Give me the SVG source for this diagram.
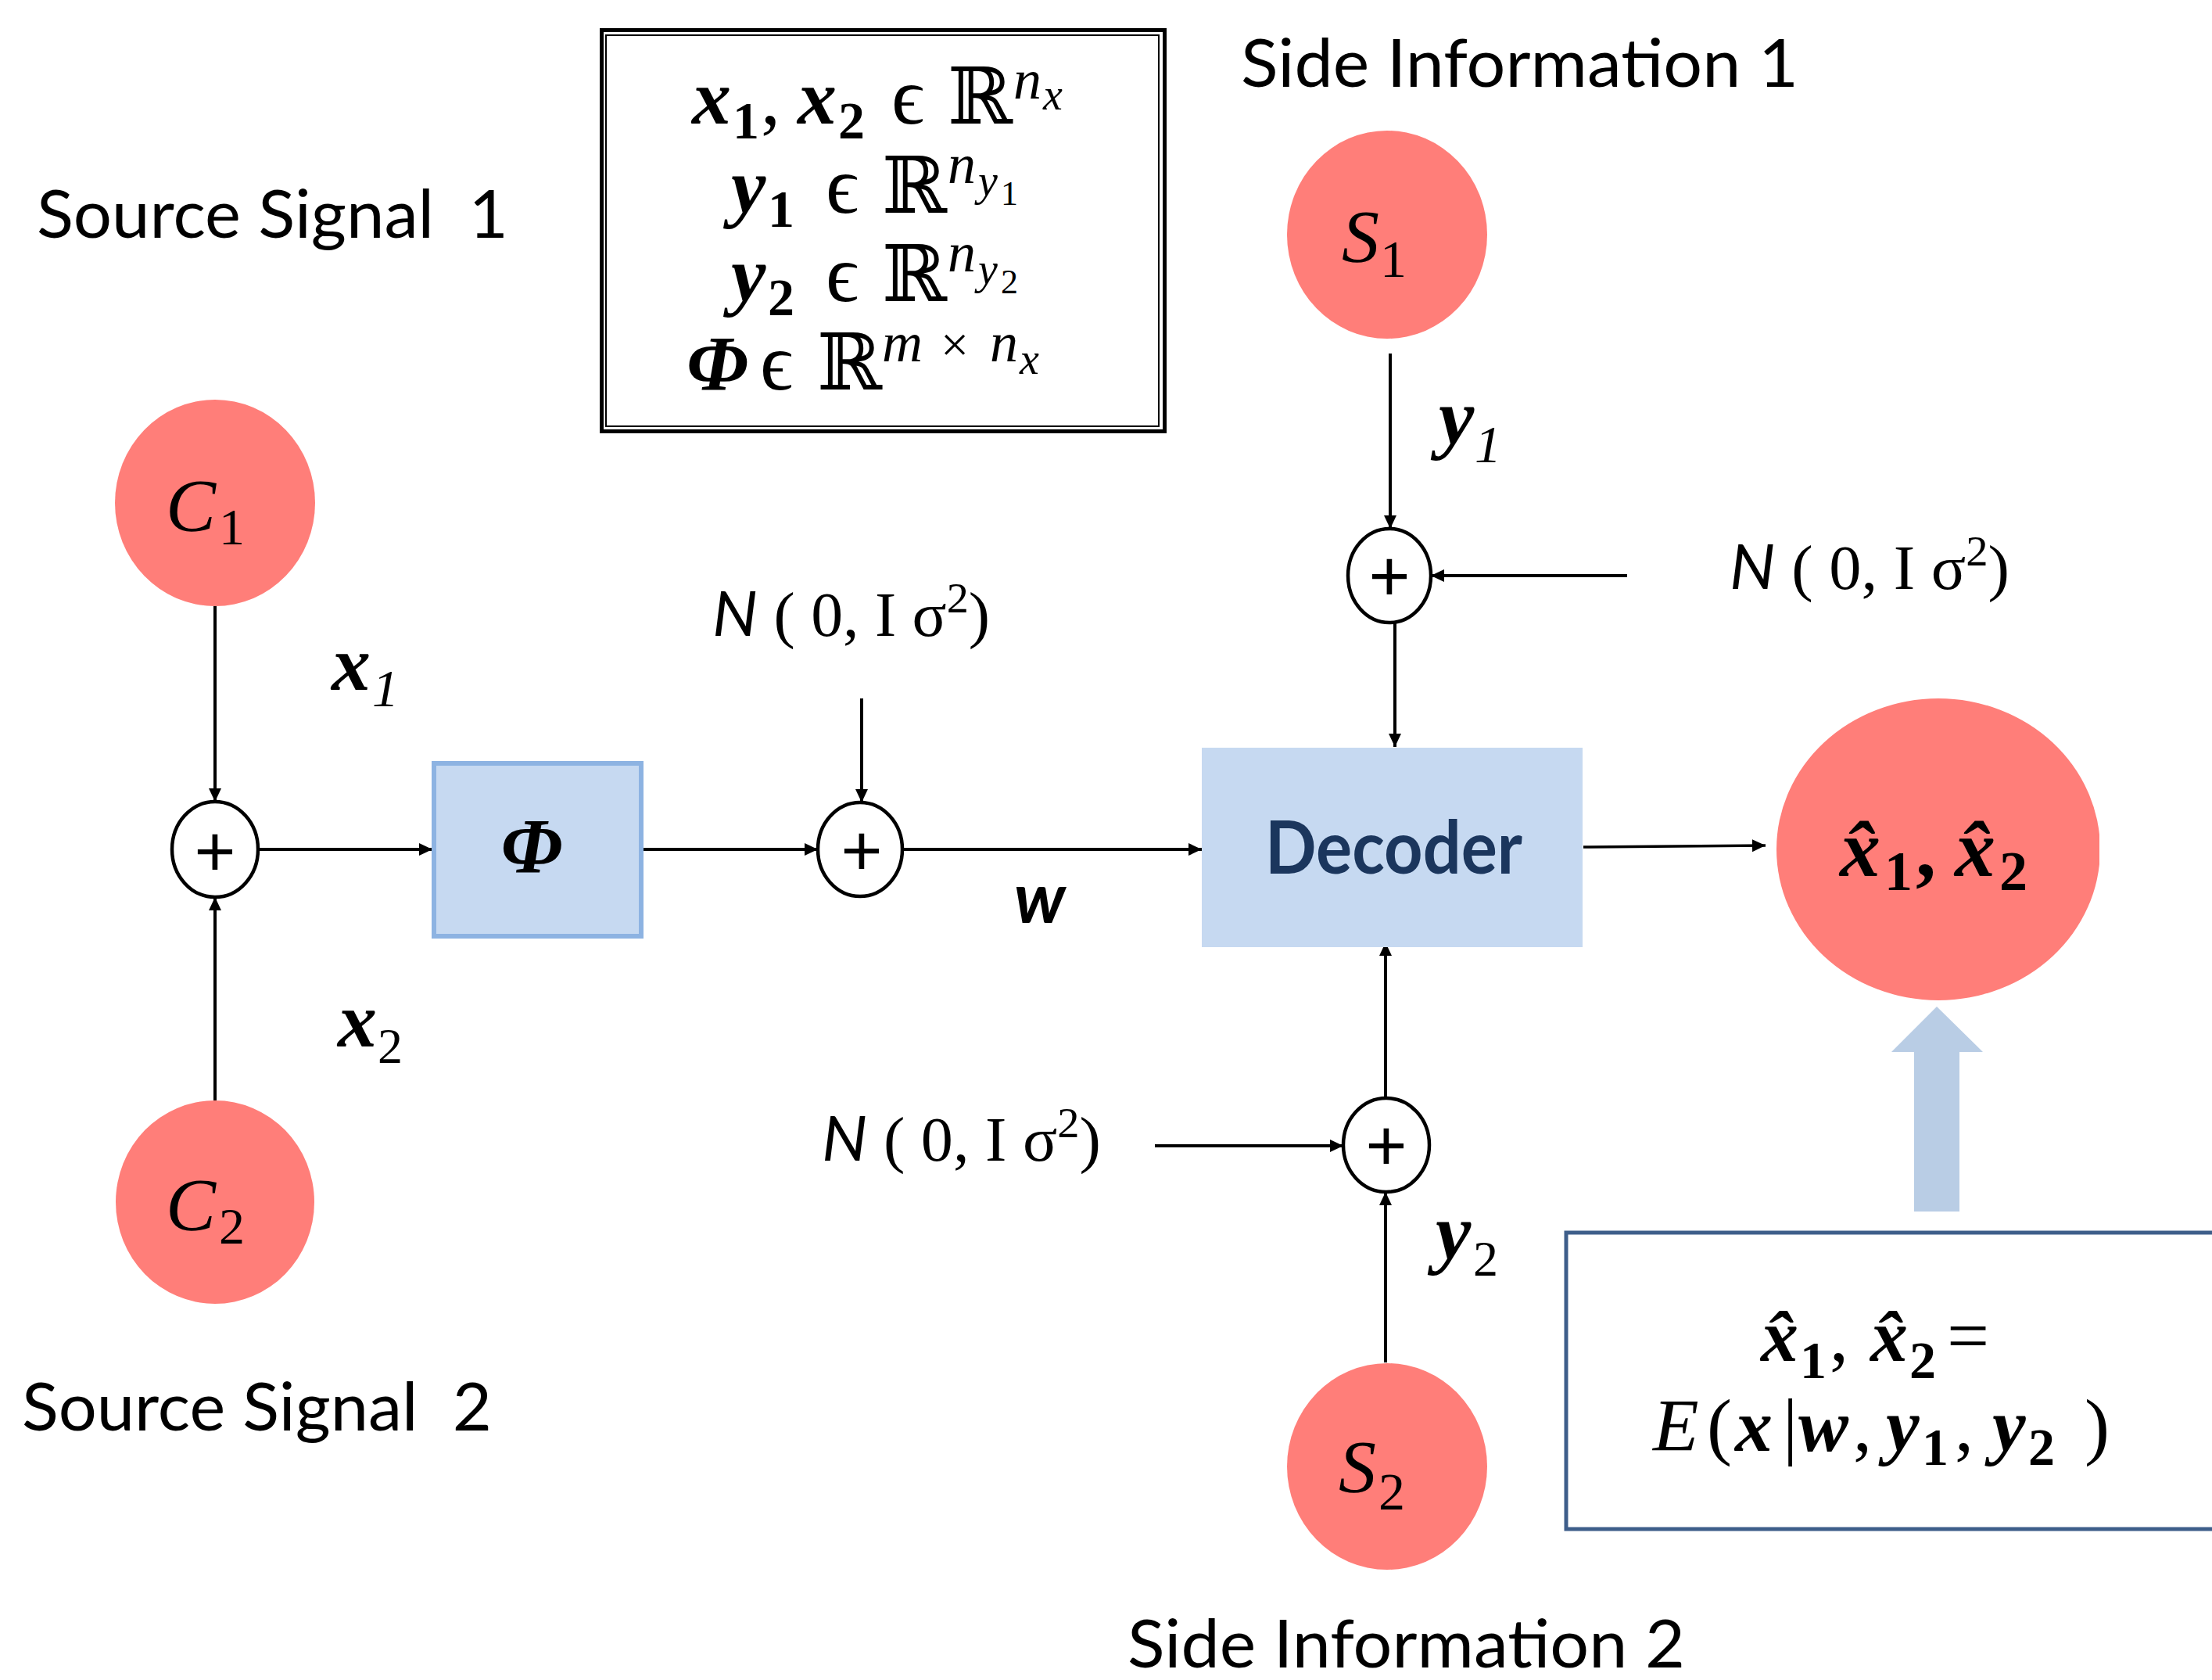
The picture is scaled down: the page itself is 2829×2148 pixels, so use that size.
<svg xmlns="http://www.w3.org/2000/svg" width="2829" height="2148" viewBox="0 0 2829 2148">
<style>
.lbl{font-family:Lato,"Open Sans","Liberation Sans",sans-serif;font-size:85px;fill:#000;white-space:pre}
.m{font-family:"Liberation Serif","DejaVu Serif",serif;fill:#000}
.bi{font-weight:bold;font-style:italic}
.it{font-style:italic}
.b{font-weight:bold}
.src{fill:#FF7E79}
.sum{fill:#fff;stroke:#000;stroke-width:4.5}
.plus{font-family:Lato,"Liberation Sans",sans-serif;font-size:92px;text-anchor:middle;fill:#000}
.edge{fill:none;stroke:#000;stroke-width:4;marker-end:url(#ah)}
.nz{font-size:80px}
</style>
<defs>
<marker id="ah" markerUnits="userSpaceOnUse" markerWidth="18" markerHeight="17" refX="17" refY="8" orient="auto">
<path d="M0,0 L17,8 L0,16 z" fill="#000"/>
</marker>
<clipPath id="clipx"><rect x="0" y="0" width="2685" height="2148"/></clipPath>
</defs>
<rect x="0" y="0" width="2829" height="2148" fill="#fff"/>

<!-- free text labels -->
<text class="lbl" x="47" y="304" textLength="603" lengthAdjust="spacingAndGlyphs">Source Signal  1</text>
<text class="lbl" x="28" y="1829" textLength="601" lengthAdjust="spacingAndGlyphs">Source Signal  2</text>
<text class="lbl" x="1587" y="111" textLength="713" lengthAdjust="spacingAndGlyphs">Side Information 1</text>
<text class="lbl" x="1442" y="2132" textLength="713" lengthAdjust="spacingAndGlyphs">Side Information 2</text>

<!-- definitions box -->
<g id="defs-box">
<rect x="769.5" y="38.5" width="720" height="513" fill="#fff" stroke="#000" stroke-width="5"/>
<rect x="775" y="45" width="707" height="500" fill="none" stroke="#000" stroke-width="2"/>
<text class="m" font-size="100">
<tspan class="bi" x="885" y="158">x</tspan><tspan class="b" font-size="68" x="937" y="177">1</tspan><tspan x="973" y="158">,</tspan><tspan class="bi" x="1020" y="158">x</tspan><tspan class="b" font-size="68" x="1072" y="177">2</tspan><tspan font-size="104" x="1140" y="158">ϵ</tspan><tspan x="1212" y="158">ℝ</tspan><tspan class="it" font-size="72" x="1296" y="126">n</tspan><tspan class="it" font-size="56" x="1334" y="140">x</tspan>
</text>
<text class="m" font-size="100">
<tspan class="bi" x="935" y="272">y</tspan><tspan class="b" font-size="68" x="982" y="290">1</tspan><tspan font-size="104" x="1056" y="272">ϵ</tspan><tspan x="1128" y="272">ℝ</tspan><tspan class="it" font-size="72" x="1212" y="234">n</tspan><tspan class="it" font-size="56" x="1251" y="250">y</tspan><tspan font-size="44" x="1280" y="262">1</tspan>
</text>
<text class="m" font-size="100">
<tspan class="bi" x="935" y="385">y</tspan><tspan class="b" font-size="68" x="982" y="403">2</tspan><tspan font-size="104" x="1056" y="385">ϵ</tspan><tspan x="1128" y="385">ℝ</tspan><tspan class="it" font-size="72" x="1212" y="347">n</tspan><tspan class="it" font-size="56" x="1251" y="363">y</tspan><tspan font-size="44" x="1280" y="375">2</tspan>
</text>
<text class="m" font-size="100">
<tspan class="bi" x="878" y="498">Φ</tspan><tspan font-size="104" x="972" y="498">ϵ</tspan><tspan x="1045" y="498">ℝ</tspan><tspan class="it" font-size="72" x="1128" y="462">m</tspan><tspan font-size="64" x="1203" y="462">×</tspan><tspan class="it" font-size="72" x="1266" y="462">n</tspan><tspan class="it" font-size="56" x="1304" y="478">x</tspan>
</text>
</g>

<!-- connectors -->
<g id="connectors">
<path class="edge" d="M275,775 L275,1025"/>
<path class="edge" d="M275,1407 L275,1147"/>
<path class="edge" d="M330,1086 L553,1086"/>
<path class="edge" d="M822,1086 L1046,1086"/>
<path class="edge" d="M1102,893 L1102,1026"/>
<path class="edge" d="M1154,1086 L1537,1086"/>
<path class="edge" d="M1778,452 L1778,676"/>
<path class="edge" d="M2081,736 L1830,736"/>
<path class="edge" d="M1784,796 L1784,955"/>
<path class="edge" d="M1772,1404 L1772,1205"/>
<path class="edge" d="M1772,1742 L1772,1524"/>
<path class="edge" d="M1477,1465 L1718,1465"/>
<path class="edge" style="stroke-width:3.5" d="M2025,1083 L2258,1081"/>
<polygon id="big-arrow" points="2477,1287 2536,1345 2506,1345 2506,1549 2448,1549 2448,1345 2419,1345" fill="#B9CDE5"/>
</g>

<!-- edge labels -->
<g id="edge-labels" class="m">
<text font-size="100"><tspan class="bi" x="424" y="882">x</tspan><tspan class="it" font-size="68" x="476" y="903">1</tspan></text>
<text font-size="100"><tspan class="bi" x="432" y="1338">x</tspan><tspan font-size="64" x="483" y="1359">2</tspan></text>
<text font-size="102"><tspan class="bi" x="1840" y="567">y</tspan><tspan class="it" font-size="68" x="1886" y="591">1</tspan></text>
<text font-size="102"><tspan class="bi" x="1836" y="1609">y</tspan><tspan font-size="64" x="1884" y="1631">2</tspan></text>
<text x="1297" y="1180" font-family="Lato,'Liberation Sans',sans-serif" font-weight="bold" font-style="italic" font-size="89">w</text>
<text class="nz" x="911" y="813" textLength="355" lengthAdjust="spacingAndGlyphs"><tspan font-family="Lato,'Liberation Sans',sans-serif" font-style="italic">N</tspan> ( 0, I σ<tspan font-size="55" dy="-30">2</tspan><tspan dy="30">)</tspan></text>
<text class="nz" x="2212" y="753" textLength="358" lengthAdjust="spacingAndGlyphs"><tspan font-family="Lato,'Liberation Sans',sans-serif" font-style="italic">N</tspan> ( 0, I σ<tspan font-size="55" dy="-30">2</tspan><tspan dy="30">)</tspan></text>
<text class="nz" x="1051" y="1484" textLength="357" lengthAdjust="spacingAndGlyphs"><tspan font-family="Lato,'Liberation Sans',sans-serif" font-style="italic">N</tspan> ( 0, I σ<tspan font-size="55" dy="-30">2</tspan><tspan dy="30">)</tspan></text>
</g>

<!-- source nodes -->
<g id="C1">
<ellipse class="src" cx="275" cy="643" rx="128" ry="132"/>
<text class="m" font-size="96"><tspan class="it" x="212" y="679">C</tspan><tspan font-size="66" x="280" y="696">1</tspan></text>
</g>
<g id="C2">
<ellipse class="src" cx="275" cy="1537" rx="127" ry="130"/>
<text class="m" font-size="96"><tspan class="it" x="212" y="1573">C</tspan><tspan font-size="66" x="280" y="1590">2</tspan></text>
</g>
<g id="S1">
<ellipse class="src" cx="1774" cy="300" rx="128" ry="133"/>
<text class="m" font-size="96"><tspan class="it" x="1716" y="335">S</tspan><tspan font-size="68" x="1765" y="354">1</tspan></text>
</g>
<g id="S2">
<ellipse class="src" cx="1774" cy="1875" rx="128" ry="132"/>
<text class="m" font-size="96"><tspan class="it" x="1712" y="1908">S</tspan><tspan font-size="68" x="1763" y="1930">2</tspan></text>
</g>

<!-- sum nodes -->
<g id="sum1"><ellipse class="sum" cx="275" cy="1086" rx="55" ry="61"/><text class="plus" x="275" y="1120">+</text></g>
<g id="sum2"><ellipse class="sum" cx="1100" cy="1086" rx="54" ry="60"/><text class="plus" x="1102" y="1119">+</text></g>
<g id="sum3"><ellipse class="sum" cx="1777" cy="736" rx="53" ry="60"/><text class="plus" x="1777" y="768">+</text></g>
<g id="sum4"><ellipse class="sum" cx="1773" cy="1464" rx="55" ry="60"/><text class="plus" x="1773" y="1496">+</text></g>

<!-- Phi block -->
<g id="Phi">
<rect x="555" y="976" width="265" height="221" fill="#C6D9F1" stroke="#8DB3E2" stroke-width="6"/>
<text class="m bi" x="680" y="1115" font-size="100" text-anchor="middle">Φ</text>
</g>

<!-- Decoder -->
<g id="Decoder">
<rect x="1537" y="956" width="487" height="255" fill="#C6D9F1"/>
<text x="1618" y="1117" font-family="Lato,'Open Sans',sans-serif" font-weight="bold" font-size="93" fill="#1B365D" textLength="329" lengthAdjust="spacingAndGlyphs">Decoder</text>
</g>

<!-- estimate node -->
<g id="xhat">
<ellipse class="src" cx="2479" cy="1086" rx="207" ry="193" clip-path="url(#clipx)"/>
<text class="m b" font-size="104"><tspan class="it" x="2353" y="1120">x̂</tspan><tspan font-size="72" x="2410" y="1138">1</tspan><tspan x="2450" y="1120">,</tspan><tspan class="it" x="2500" y="1120">x̂</tspan><tspan font-size="72" x="2557" y="1138">2</tspan></text>
</g>

<!-- estimator box -->
<g id="estimator">
<rect x="2003" y="1576" width="850" height="379" fill="#fff" stroke="#3E5E8A" stroke-width="5"/>
<text class="m" font-size="96"><tspan class="bi" x="2252" y="1740">x̂</tspan><tspan class="b" font-size="68" x="2302" y="1762">1</tspan><tspan x="2340" y="1740">,</tspan><tspan class="bi" x="2392" y="1740">x̂</tspan><tspan class="b" font-size="68" x="2442" y="1762">2</tspan><tspan x="2490" y="1740">=</tspan></text>
<text class="m" font-size="96"><tspan class="it" x="2114" y="1855">E</tspan><tspan x="2183" y="1855">(</tspan><tspan class="bi" x="2219" y="1855">x</tspan><tspan x="2280" y="1855">|</tspan><tspan class="bi" x="2300" y="1855">w</tspan><tspan x="2370" y="1855">,</tspan><tspan class="bi" x="2412" y="1855">y</tspan><tspan class="b" font-size="68" x="2458" y="1873">1</tspan><tspan x="2500" y="1855">,</tspan><tspan class="bi" x="2548" y="1855">y</tspan><tspan class="b" font-size="68" x="2594" y="1873">2</tspan><tspan x="2666" y="1855">)</tspan></text>
</g>
</svg>
